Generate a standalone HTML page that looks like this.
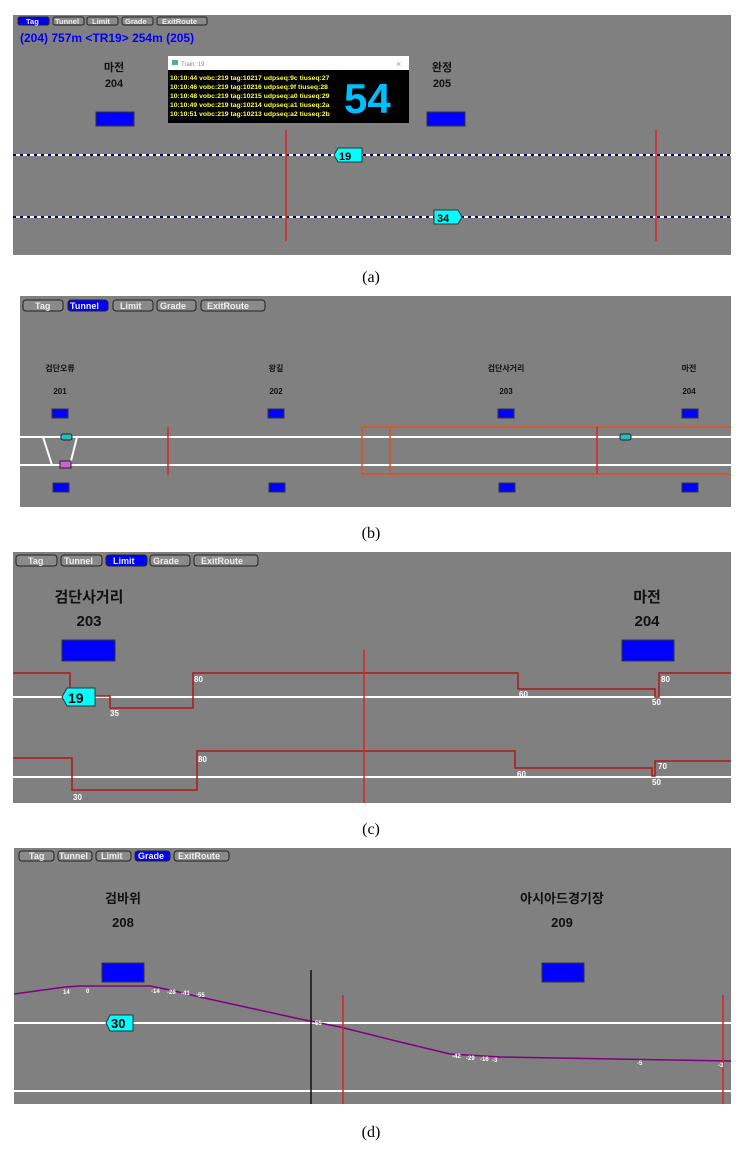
<!DOCTYPE html>
<html><head><meta charset="utf-8"><style>
body{margin:0;background:#fff;}
svg{display:block;font-family:"Liberation Sans","Noto Sans CJK KR",sans-serif;}
.b{fill:#8a8a8a;stroke:#222;stroke-width:1;}
.bt{font-size:9px;font-weight:bold;fill:#eee;}
.bs{font-size:7.5px;font-weight:bold;fill:#eee;}
.st{font-weight:bold;fill:#111;text-anchor:middle;}
.cap{font-family:"Liberation Serif",serif;font-size:16px;fill:#000;text-anchor:middle;}
.sm{font-size:8px;fill:#fff;font-weight:bold;}
</style></head><body>
<svg width="742" height="1149" viewBox="0 0 742 1149">
<!-- panel a -->
<rect x="13" y="15" width="718" height="240" fill="#808080"/>
<rect x="18" y="17" width="31" height="8" rx="2" fill="#0000ff" stroke="#222"/><text x="26" y="24" class="bs">Tag</text>
<rect x="53" y="17" width="31" height="8" rx="2" class="b"/><text x="55" y="24" class="bs">Tunnel</text>
<rect x="87" y="17" width="31" height="8" rx="2" class="b"/><text x="92" y="24" class="bs">Limit</text>
<rect x="122" y="17" width="31" height="8" rx="2" class="b"/><text x="125" y="24" class="bs">Grade</text>
<rect x="157" y="17" width="50" height="8" rx="2" class="b"/><text x="162" y="24" class="bs">ExitRoute</text>
<text x="20" y="42" font-size="12" font-weight="bold" fill="#0000ff">(204) 757m &lt;TR19&gt; 254m (205)</text>
<text x="114" y="71" font-size="11" class="st">마전</text><text x="114" y="87" font-size="11" class="st">204</text>
<rect x="96" y="112" width="38" height="14" fill="#0000ff" stroke="#333"/>
<text x="442" y="71" font-size="11" class="st">완정</text><text x="442" y="87" font-size="11" class="st">205</text>
<rect x="427" y="112" width="38" height="14" fill="#0000ff" stroke="#333"/>
<line x1="13" y1="155" x2="731" y2="155" stroke="#fff" stroke-width="2"/>
<line x1="13" y1="155" x2="731" y2="155" stroke="#000080" stroke-width="2" stroke-dasharray="3,4"/>
<line x1="13" y1="217" x2="731" y2="217" stroke="#fff" stroke-width="2"/>
<line x1="13" y1="217" x2="731" y2="217" stroke="#000080" stroke-width="2" stroke-dasharray="3,4"/>
<line x1="286" y1="130" x2="286" y2="241" stroke="#e02020" stroke-width="1.5"/>
<line x1="656" y1="130" x2="656" y2="241" stroke="#e02020" stroke-width="1.5"/>
<polygon points="334,155 338,148 362,148 362,162 338,162" fill="#00ffff" stroke="#333"/><text x="339" y="160" font-size="11" font-weight="bold">19</text>
<polygon points="434,210 458,210 462,217 458,224 434,224" fill="#00ffff" stroke="#333"/><text x="437" y="222" font-size="11" font-weight="bold">34</text>
<rect x="168" y="56" width="241" height="67" fill="#000"/>
<rect x="168" y="56" width="241" height="14" fill="#fff"/>
<rect x="172" y="60" width="6" height="5" fill="#5a9"/><text x="181" y="66" font-size="6" fill="#888">Train: 19</text><text x="396" y="67" font-size="9" fill="#999">×</text>
<text x="344" y="113" font-size="42" font-weight="bold" fill="#00bfff">54</text>
<g font-size="6.8" font-weight="bold" fill="#ffff40">
<text x="170" y="80">10:10:44 vobc:219 tag:10217 udpseq:9c tiuseq:27</text>
<text x="170" y="89">10:10:46 vobc:219 tag:10216 udpseq:9f tiuseq:28</text>
<text x="170" y="98">10:10:48 vobc:219 tag:10215 udpseq:a0 tiuseq:29</text>
<text x="170" y="107">10:10:49 vobc:219 tag:10214 udpseq:a1 tiuseq:2a</text>
<text x="170" y="116">10:10:51 vobc:219 tag:10213 udpseq:a2 tiuseq:2b</text>
</g>
<text x="371" y="282" class="cap">(a)</text>

<!-- panel b -->
<rect x="20" y="296" width="711" height="211" fill="#808080"/>
<rect x="23" y="300" width="40" height="11" rx="3" class="b"/><text x="35" y="309" class="bt">Tag</text>
<rect x="68" y="300" width="40" height="11" rx="3" fill="#0000ff" stroke="#222"/><text x="70" y="309" class="bt">Tunnel</text>
<rect x="113" y="300" width="40" height="11" rx="3" class="b"/><text x="120" y="309" class="bt">Limit</text>
<rect x="157" y="300" width="39" height="11" rx="3" class="b"/><text x="160" y="309" class="bt">Grade</text>
<rect x="201" y="300" width="64" height="11" rx="3" class="b"/><text x="207" y="309" class="bt">ExitRoute</text>
<g font-size="8">
<text x="60" y="371" class="st">검단오류</text><text x="60" y="394" class="st">201</text>
<text x="276" y="371" class="st">왕길</text><text x="276" y="394" class="st">202</text>
<text x="506" y="371" class="st">검단사거리</text><text x="506" y="394" class="st">203</text>
<text x="689" y="371" class="st">마전</text><text x="689" y="394" class="st">204</text>
</g>
<g fill="#0000ff" stroke="#333">
<rect x="52" y="409" width="16" height="9"/><rect x="268" y="409" width="16" height="9"/><rect x="498" y="409" width="16" height="9"/><rect x="682" y="409" width="16" height="9"/>
<rect x="53" y="483" width="16" height="9"/><rect x="269" y="483" width="16" height="9"/><rect x="499" y="483" width="16" height="9"/><rect x="682" y="483" width="16" height="9"/>
</g>
<line x1="20" y1="437" x2="731" y2="437" stroke="#fff" stroke-width="2"/>
<line x1="20" y1="465" x2="731" y2="465" stroke="#fff" stroke-width="2"/>
<polyline points="43,437 52,465" stroke="#fff" stroke-width="2" fill="none"/>
<polyline points="77,437 70,465" stroke="#fff" stroke-width="2" fill="none"/>
<rect x="61" y="434" width="11" height="6" rx="2" fill="#20c0c0" stroke="#222"/>
<rect x="60" y="461" width="11" height="7" fill="#d060d0" stroke="#222"/>
<line x1="168" y1="427" x2="168" y2="475" stroke="#e02020" stroke-width="1.5"/>
<polyline points="731,427 362,427 362,474 731,474" fill="none" stroke="#e05020" stroke-width="1.5"/>
<line x1="390" y1="427" x2="390" y2="474" stroke="#e05020" stroke-width="1.5"/>
<line x1="597" y1="427" x2="597" y2="474" stroke="#e02020" stroke-width="1.5"/>
<rect x="620" y="434" width="11" height="6" rx="2" fill="#20c0c0" stroke="#222"/>
<text x="371" y="538" class="cap">(b)</text>

<!-- panel c -->
<rect x="13" y="552" width="718" height="251" fill="#808080"/>
<rect x="16" y="555" width="41" height="11" rx="3" class="b"/><text x="28" y="564" class="bt">Tag</text>
<rect x="61" y="555" width="41" height="11" rx="3" class="b"/><text x="64" y="564" class="bt">Tunnel</text>
<rect x="106" y="555" width="41" height="11" rx="3" fill="#0000ff" stroke="#222"/><text x="113" y="564" class="bt">Limit</text>
<rect x="150" y="555" width="40" height="11" rx="3" class="b"/><text x="153" y="564" class="bt">Grade</text>
<rect x="194" y="555" width="64" height="11" rx="3" class="b"/><text x="201" y="564" class="bt">ExitRoute</text>
<g font-size="15">
<text x="89" y="602" class="st">검단사거리</text><text x="89" y="626" class="st">203</text>
<text x="647" y="602" class="st">마전</text><text x="647" y="626" class="st">204</text>
</g>
<rect x="62" y="640" width="53" height="21" fill="#0000ff" stroke="#333"/>
<rect x="622" y="640" width="52" height="21" fill="#0000ff" stroke="#333"/>
<line x1="13" y1="697" x2="731" y2="697" stroke="#fff" stroke-width="2"/>
<line x1="13" y1="777" x2="731" y2="777" stroke="#fff" stroke-width="2"/>
<polyline points="13,673 70,673 70,696 110,696 110,708 193,708 193,673 518,673 518,689 655,689 655,697 659,697 659,673 731,673" fill="none" stroke="#b01818" stroke-width="1.5"/>
<polyline points="13,758 72,758 72,790 197,790 197,751 515,751 515,768 652,768 652,776 655,776 655,761 731,761" fill="none" stroke="#b01818" stroke-width="1.5"/>
<line x1="364" y1="650" x2="364" y2="803" stroke="#e02020" stroke-width="1.5"/>
<g class="sm"><text x="194" y="682" class="sm">80</text><text x="110" y="716" class="sm">35</text><text x="519" y="697" class="sm">60</text><text x="652" y="705" class="sm">50</text><text x="661" y="682" class="sm">80</text>
<text x="73" y="800" class="sm">30</text><text x="198" y="762" class="sm">80</text><text x="517" y="777" class="sm">60</text><text x="652" y="785" class="sm">50</text><text x="658" y="769" class="sm">70</text></g>
<polygon points="62,697 67,688 95,688 95,706 67,706" fill="#00ffff" stroke="#333"/><text x="68" y="703" font-size="14" font-weight="bold">19</text>
<text x="371" y="834" class="cap">(c)</text>

<!-- panel d -->
<rect x="14" y="848" width="717" height="256" fill="#808080"/>
<rect x="19" y="851" width="35" height="10" rx="3" class="b"/><text x="29" y="859" class="bt">Tag</text>
<rect x="58" y="851" width="34" height="10" rx="3" class="b"/><text x="59" y="859" class="bt">Tunnel</text>
<rect x="96" y="851" width="35" height="10" rx="3" class="b"/><text x="101" y="859" class="bt">Limit</text>
<rect x="135" y="851" width="35" height="10" rx="3" fill="#0000ff" stroke="#222"/><text x="138" y="859" class="bt">Grade</text>
<rect x="174" y="851" width="55" height="10" rx="3" class="b"/><text x="178" y="859" class="bt">ExitRoute</text>
<g font-size="13">
<text x="123" y="903" class="st">검바위</text><text x="123" y="927" class="st">208</text>
<text x="562" y="903" class="st">아시아드경기장</text><text x="562" y="927" class="st">209</text>
</g>
<rect x="102" y="963" width="42" height="19" fill="#0000ff" stroke="#333"/>
<rect x="542" y="963" width="42" height="19" fill="#0000ff" stroke="#333"/>
<line x1="14" y1="1023" x2="731" y2="1023" stroke="#fff" stroke-width="2"/>
<line x1="14" y1="1091" x2="731" y2="1091" stroke="#fff" stroke-width="2"/>
<polyline points="14,994 65,987 80,986 150,986 170,990 200,997 250,1008 300,1019 340,1027 400,1042 450,1054 500,1057 731,1061" fill="none" stroke="#800080" stroke-width="1.5"/>
<line x1="311" y1="970" x2="311" y2="1104" stroke="#111" stroke-width="1.5"/>
<line x1="343" y1="995" x2="343" y2="1104" stroke="#e02020" stroke-width="1.5"/>
<line x1="723" y1="995" x2="723" y2="1104" stroke="#e02020" stroke-width="1.5"/>
<g font-size="6" fill="#fff" font-weight="bold">
<text x="63" y="994">14</text><text x="86" y="993">0</text><text x="151" y="993">-14</text><text x="167" y="994">-28</text><text x="181" y="995">-41</text><text x="196" y="997">-55</text>
<text x="313" y="1025">-55</text><text x="452" y="1058">-42</text><text x="466" y="1060">-29</text><text x="480" y="1061">-16</text><text x="492" y="1062">-3</text><text x="637" y="1065">-5</text><text x="718" y="1067">-3</text></g>
<polygon points="106,1023 110,1015 133,1015 133,1031 110,1031" fill="#00ffff" stroke="#333"/><text x="111" y="1028" font-size="13" font-weight="bold">30</text>
<text x="371" y="1137" class="cap">(d)</text>
</svg>
</body></html>
